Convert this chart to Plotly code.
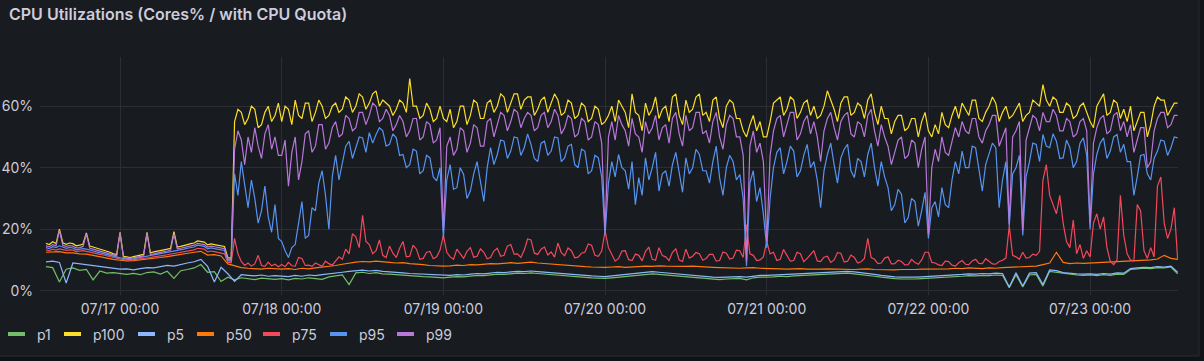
import pandas as pd
import plotly.graph_objects as go

# ---------------- data ----------------
# p1 / p5 / p50 are sampled hourly, the noisy percentiles every 30 minutes.
START = "2024-07-16 13:00"
HOURLY = "60min"
HALF_HOURLY = "30min"

series_names = ["p1", "p100", "p5", "p50", "p75", "p95", "p99"]

p1 = [
    7.8, 7.5, 2.8, 7.0, 7.4, 6.6, 6.9, 3.5, 6.4, 5.7, 5.9,
    5.5, 5.3, 5.6, 5.2, 5.9, 6.1, 5.4, 6.3, 4.0, 6.5, 6.9, 7.4, 8.5, 6.0, 6.2, 3.0, 4.4, 3.5, 4.2, 4.0, 3.6, 4.1, 3.8, 3.7,
    3.9, 3.5, 4.0, 3.8, 4.2, 4.0, 3.7, 4.5, 4.9, 5.1, 2.0, 5.8, 6.0, 5.6, 5.9, 5.5, 5.4, 5.2, 5.0, 4.9, 4.7, 4.6, 4.5, 4.3,
    4.2, 4.4, 4.6, 4.5, 4.8, 5.0, 4.9, 5.2, 5.4, 5.3, 5.5, 5.7, 5.6, 5.8, 5.6, 5.4, 5.2, 5.1, 4.9, 4.7, 4.6, 4.4, 4.2, 4.1,
    4.0, 4.2, 4.4, 4.6, 4.9, 5.1, 5.3, 5.5, 5.3, 5.1, 4.9, 4.6, 4.4, 4.2, 4.0, 3.8, 3.7, 3.6, 3.8, 3.9, 4.0, 3.5, 4.2, 4.4,
    4.4, 4.5, 4.7, 4.6, 4.8, 4.9, 5.0, 5.2, 5.1, 5.3, 5.4, 5.6, 5.7, 5.5, 5.3, 5.0, 4.7, 4.4, 4.1, 3.9, 3.8, 3.7, 3.8, 3.9,
    4.0, 4.1, 4.3, 4.4, 4.6, 4.7, 4.9, 4.8, 5.0, 4.9, 5.1, 5.0, 1.0, 5.2, 1.2, 5.1, 5.3, 1.5, 6.3, 6.0, 5.5, 5.2, 5.1, 5.0,
    5.1, 4.9, 5.2, 5.0, 5.4, 5.3, 6.9, 7.1, 7.3, 7.2, 7.5, 7.4, 7.7, 5.5,
]

p5 = [
    9.4, 9.6, 9.2, 2.5, 9.0, 8.7, 8.5, 8.1, 7.9, 7.5, 7.3,
    7.0, 7.1, 6.8, 7.2, 7.5, 7.4, 7.8, 8.2, 8.0, 8.6, 9.0, 9.4, 10.2, 7.9, 2.8, 7.6, 5.5, 3.0, 5.2, 5.0, 4.8, 5.1, 4.7, 4.9,
    4.8, 4.6, 5.0, 4.7, 5.1, 4.9, 5.2, 5.4, 5.8, 6.0, 6.3, 6.5, 6.7, 6.4, 6.6, 6.3, 6.2, 6.0, 5.8, 5.6, 5.5, 5.3, 5.2, 5.0,
    4.9, 5.0, 5.2, 5.1, 5.4, 5.6, 5.5, 5.8, 6.0, 5.9, 6.1, 6.3, 6.2, 6.4, 6.2, 6.0, 5.8, 5.7, 5.5, 5.3, 5.2, 5.0, 4.8, 4.7,
    4.6, 4.8, 5.0, 5.2, 5.5, 5.7, 6.0, 6.2, 6.0, 5.8, 5.6, 5.3, 5.0, 4.9, 4.7, 4.5, 4.4, 4.3, 4.4, 4.5, 4.6, 4.4, 4.8, 5.0,
    5.0, 5.1, 5.3, 5.2, 5.4, 5.5, 5.6, 5.8, 5.7, 5.9, 6.0, 6.2, 6.3, 6.1, 5.9, 5.6, 5.3, 5.0, 4.7, 4.5, 4.4, 4.3, 4.4, 4.5,
    4.6, 4.7, 4.9, 5.0, 5.2, 5.3, 5.5, 5.4, 5.6, 5.5, 5.7, 5.6, 1.2, 5.8, 1.5, 5.7, 5.9, 2.0, 6.8, 6.5, 5.9, 5.6, 5.5, 5.4,
    5.5, 5.3, 5.6, 5.4, 5.8, 5.7, 7.2, 7.4, 7.6, 7.5, 7.8, 7.7, 8.0, 6.0,
]

p50 = [
    12.5, 12.6, 12.7, 12.3, 12.3, 12.0, 11.9, 11.5, 11.0, 10.6, 10.2,
    9.9, 9.7, 9.8, 10.0, 10.2, 10.5, 10.8, 11.1, 11.5, 11.8, 12.2, 12.5, 12.8, 11.6, 11.7, 11.3, 8.7, 8.0, 7.5, 7.3, 7.2, 7.0, 7.3, 7.1,
    7.0, 7.2, 6.9, 7.3, 7.1, 7.4, 7.6, 7.8, 8.2, 8.6, 9.0, 9.3, 9.5, 9.4, 9.6, 9.3, 9.2, 9.0, 9.1, 8.8, 8.7, 8.5, 8.2, 8.0,
    8.0, 8.1, 8.3, 8.2, 8.5, 8.4, 8.6, 8.8, 8.7, 9.0, 9.1, 8.9, 9.2, 9.3, 9.0, 8.8, 8.7, 8.5, 8.3, 8.2, 8.0, 7.8, 7.7, 7.6,
    7.6, 7.7, 7.8, 7.6, 7.8, 7.9, 8.0, 7.9, 8.1, 8.0, 7.9, 7.8, 7.9, 8.0, 7.8, 7.7, 7.6, 7.5, 7.4, 7.5, 7.3, 7.4, 7.5, 7.3,
    7.3, 7.2, 7.1, 7.0, 7.1, 7.2, 7.0, 6.9, 7.0, 7.1, 7.0, 6.9, 6.8, 6.9, 7.0, 7.1, 6.9, 6.8, 6.7, 6.8, 6.9, 6.8, 6.9, 7.0,
    7.0, 7.1, 7.2, 7.1, 7.3, 7.2, 7.4, 7.3, 7.2, 7.4, 7.3, 7.5, 7.6, 7.5, 7.7, 7.8, 8.0, 8.5, 9.0, 12.5, 9.2, 8.8, 9.0, 8.9,
    9.0, 9.1, 9.3, 9.2, 9.4, 9.5, 9.6, 9.8, 9.9, 10.0, 10.3, 11.5, 10.5, 10.2,
]

p100 = [
    15.4, 15.0, 15.9, 15.3, 20.0, 15.6, 15.1, 15.5, 15.3, 14.6, 14.8, 15.2, 18.8, 14.5, 14.2, 13.9, 13.5, 13.3, 12.8, 12.5, 12.0, 11.8,
    19.0, 11.2, 11.0, 10.8, 11.1, 11.3, 11.5, 11.8, 19.0, 12.3, 12.6, 12.9, 13.0, 13.3, 13.5, 13.8, 19.2, 14.2, 14.4, 14.8, 15.0, 15.3, 15.5, 16.2,
    16.0, 15.8, 14.9, 15.2, 15.0, 14.8, 14.6, 14.4, 10.8, 10.5, 55, 59, 58, 54, 56, 60, 59, 53, 54, 58, 60, 55, 57, 61,
    55, 60, 59, 54, 62, 57, 56, 61, 61, 55, 58, 62, 60, 56, 57, 60, 61, 58, 59, 63, 62, 58, 60, 64,
    63, 59, 61, 64, 65, 60, 62, 61, 60, 57, 59, 62, 61, 58, 69, 60, 60, 56, 57, 61, 59, 55, 56, 60,
    56, 55, 59, 53, 55, 60, 60, 54, 57, 62, 61, 56, 56, 61, 62, 58, 60, 64, 63, 58, 61, 64, 64, 59,
    62, 63, 63, 57, 59, 62, 63, 58, 61, 64, 62, 57, 58, 62, 61, 56, 57, 61, 60, 55, 56, 60, 59, 54,
    55, 57, 60, 55, 62, 60, 58, 53, 64, 58, 57, 52, 61, 57, 59, 63, 56, 59, 60, 55, 63, 64, 57, 54,
    62, 58, 59, 63, 64, 57, 58, 55, 62, 63, 56, 53, 60, 62, 61, 56, 56, 52, 50, 54, 57, 52, 55, 50,
    50, 55, 61, 62, 63, 57, 59, 63, 62, 56, 58, 61, 62, 57, 60, 56, 57, 60, 65, 62, 59, 55, 61, 63,
    63, 57, 58, 61, 60, 56, 62, 64, 58, 54, 60, 56, 56, 51, 55, 57, 57, 52, 53, 56, 56, 50, 55, 58,
    52, 50, 54, 51, 58, 54, 53, 57, 60, 56, 61, 59, 57, 62, 62, 56, 55, 58, 60, 63, 61, 55, 58, 60,
    56, 57, 59, 61, 55, 57, 58, 62, 61, 60, 67, 62, 60, 63, 62, 58, 58, 61, 60, 56, 57, 60, 61, 58,
    55, 53, 60, 62, 64, 57, 58, 62, 61, 56, 59, 55, 60, 52, 55, 58, 58, 50, 54, 60, 63, 62, 62, 57, 59, 61, 61,
]

p99 = [
    14.6, 14.3, 15.0, 14.6, 19.6, 14.8, 14.4, 14.7, 14.5, 13.9, 14.0, 14.4, 18.5, 13.8, 13.5, 13.2, 12.8, 12.6, 12.2, 11.9, 11.5, 11.3,
    18.8, 10.8, 10.6, 10.4, 10.7, 10.9, 11.0, 11.3, 18.6, 11.8, 12.0, 12.3, 12.4, 12.7, 12.9, 13.2, 18.5, 13.6, 13.8, 14.1, 14.3, 14.6, 14.8, 15.4,
    15.2, 15.0, 14.2, 14.5, 14.3, 14.1, 13.9, 13.7, 10.2, 10.0, 46, 52, 49, 41, 50, 45, 53, 47, 43, 51, 54, 46, 50, 44,
    44, 49, 34, 45, 50, 36, 42, 51, 52, 45, 47, 54, 54, 46, 48, 53, 55, 50, 51, 57, 56, 52, 53, 58,
    58, 54, 57, 61, 60, 55, 56, 59, 57, 52, 54, 57, 55, 50, 52, 56, 56, 49, 50, 55, 54, 48, 49, 53,
    19.5, 47, 50, 44, 46, 53, 52, 45, 48, 54, 53, 47, 47, 55, 56, 50, 54, 58, 57, 52, 55, 59, 58, 53,
    56, 58, 57, 52, 53, 57, 58, 53, 55, 59, 57, 51, 53, 57, 56, 50, 51, 56, 55, 49, 50, 55, 54, 48,
    19.5, 50, 55, 49, 57, 54, 52, 47, 56, 51, 50, 45, 55, 51, 53, 57, 49, 53, 54, 48, 56, 58, 51, 47,
    57, 52, 53, 58, 58, 51, 52, 48, 55, 58, 50, 46, 54, 57, 56, 50, 50, 44, 9.5, 47, 52, 45, 48, 42,
    16, 44, 52, 56, 57, 50, 54, 58, 58, 49, 51, 55, 57, 51, 55, 50, 42, 52, 56, 58, 53, 49, 55, 57,
    58, 51, 50, 55, 54, 50, 57, 59, 52, 47, 54, 50, 47, 41, 45, 49, 50, 43, 44, 49, 48, 40, 46, 50,
    18.4, 40, 46, 42, 50, 45, 44, 49, 53, 50, 55, 52, 51, 56, 56, 50, 48, 52, 54, 57, 57, 47, 50, 53,
    21.6, 50, 52, 55, 19.5, 49, 53, 57, 56, 52, 58, 55, 55, 59, 57, 52, 52, 56, 55, 50, 51, 55, 56, 52,
    22, 48, 53, 56, 57, 51, 52, 57, 58, 52, 55, 50, 54, 45, 49, 53, 53, 40, 42, 52, 56, 58, 58, 53, 54, 57, 57,
]

p95 = [
    14.0, 13.7, 14.3, 14.0, 14.6, 14.1, 13.8, 14.1, 13.9, 13.3, 13.4, 13.7, 13.5, 13.1, 12.9, 12.6, 12.3, 12.1, 11.8, 11.5, 11.1, 10.9,
    10.7, 10.5, 10.3, 10.1, 10.4, 10.6, 10.7, 10.9, 11.1, 11.3, 11.6, 11.8, 12.0, 12.2, 12.4, 12.7, 12.9, 13.1, 13.3, 13.5, 13.8, 14.0, 14.2, 14.8,
    14.6, 14.4, 13.6, 13.9, 13.7, 13.5, 13.3, 13.1, 9.8, 9.6, 38, 31, 42, 35, 27, 36, 30, 22, 26, 34, 24, 19, 28, 17,
    16, 13, 10.8, 14, 15, 22, 29, 17, 18, 27, 26, 35, 39, 31, 20, 37, 44, 36, 42, 47, 48.6, 43, 46.5, 50,
    49.7, 45, 51.4, 48, 50.8, 53, 52, 47, 47.6, 51, 49.7, 44, 44.3, 40, 41, 46, 45.4, 38, 39, 44, 43.2, 37, 35.7, 40,
    17, 36, 41, 33, 33.5, 40, 37.8, 30, 32.4, 38, 42, 35, 29, 40, 46.5, 41, 44.3, 49, 48.6, 43, 45.4, 50, 49.7, 44,
    46.5, 51, 47.6, 43, 42, 48, 48.6, 44, 45.4, 50, 49.7, 42, 43.2, 47, 47.6, 41, 40, 46, 45.4, 38, 39, 44, 43.2, 37,
    18, 35, 42, 37, 44.3, 40, 39, 33, 42, 28, 36.8, 31, 43.2, 36, 40, 45, 32.4, 38, 39, 34, 41, 45, 37.8, 32,
    43.2, 38, 40, 46, 44.3, 39, 39, 35, 42, 47, 36.8, 31, 40, 44, 42, 36, 37.8, 30, 8, 35, 39, 29, 33.5, 25,
    14, 30, 40, 45, 46.5, 38, 42, 47, 45.4, 37, 39, 44, 47.6, 40, 42, 36, 27, 39, 44.3, 48, 41, 35, 43.2, 46,
    47.6, 39, 36.8, 43, 42, 37, 44.3, 48, 40, 34, 42, 37, 33.5, 26, 28, 33, 31.4, 22, 23.8, 30, 29, 21, 26, 32,
    17, 27, 29, 24, 33.5, 28, 27, 36, 42, 38, 45.4, 40, 40, 47, 46.5, 39, 32.4, 41, 44.3, 48, 46.5, 27, 36, 42,
    21, 38, 40, 44, 18, 37, 42, 48, 47.6, 42, 50.8, 47, 46.5, 51, 48.6, 43, 43.2, 49, 46.5, 40, 42, 48, 49.7, 44,
    20, 38, 44.3, 48, 49.7, 43, 45.4, 50, 50.8, 45, 47.6, 42, 42, 31, 37, 44, 44.3, 38, 36, 43, 45.4, 49, 48.6, 44, 46.5, 50, 49.7,
]

p75 = [
    13.3, 13.0, 13.5, 13.2, 13.6, 13.3, 13.1, 13.3, 13.2, 12.7, 12.8, 13.0, 12.8, 12.5, 12.3, 12.0, 11.8, 11.6, 11.3, 11.0, 10.8, 10.6,
    10.3, 10.1, 10.0, 9.9, 10.1, 10.2, 10.3, 10.5, 10.6, 10.8, 11.0, 11.1, 11.3, 11.5, 11.7, 11.9, 12.1, 12.3, 12.5, 12.7, 12.9, 13.1, 13.3, 13.8,
    13.7, 13.5, 12.6, 12.9, 12.7, 12.5, 12.3, 12.0, 9.3, 9.1, 17, 12, 9.5, 8.2, 9.0, 8.0, 8.7, 11.5, 8.2, 7.9, 9.3, 8.1, 8.6, 7.8,
    8.5, 7.8, 9.2, 8.1, 8.0, 10.8, 10.5, 8.2, 8.3, 7.9, 9.0, 8.4, 7.9, 9.6, 8.8, 8.3, 9.5, 11.0, 10.2, 13.5, 12.0, 18.5, 17.5, 14.0,
    24.5, 16.0, 15.0, 12.0, 13.0, 16.5, 11.5, 10.8, 14.5, 12.2, 10.8, 13.8, 16.0, 11.0, 11.2, 14.8, 13.5, 10.2, 10.5, 12.5, 12.8, 10.4, 11.0, 13.2,
    18, 12.5, 11, 10.2, 13.5, 11.8, 10.5, 12.8, 14.0, 10.9, 11.2, 13.6, 12.5, 10.4, 10.8, 12.9, 13.8, 11.2, 11.5, 14.5, 15.0, 11.9, 12.0, 10.8,
    13.2, 16.8, 16.5, 12.2, 11.8, 13.5, 14.2, 11.6, 12.6, 10.9, 15.5, 12.4, 11.4, 13.9, 13.0, 10.7, 10.9, 12.2, 12.5, 15.2, 14.8, 11.5, 11.2, 12.9,
    19.5, 14.0, 12.0, 9.6, 10.5, 12.9, 13.0, 10.1, 9.8, 11.9, 11.5, 9.7, 12.8, 14.2, 10.2, 9.9, 14.0, 11.4, 11.0, 9.8, 12.5, 13.6, 10.0, 9.5,
    13.5, 10.6, 11.2, 12.4, 12.0, 9.9, 10.5, 11.8, 11.8, 9.6, 9.8, 12.6, 12.2, 10.3, 10.6, 13.2, 13.0, 10.8, 21.5, 12.0, 11.5, 9.8, 10.0, 11.0,
    16.0, 12.0, 12.5, 9.8, 10.2, 13.4, 11.5, 9.6, 9.8, 12.5, 12.0, 9.4, 10.5, 11.8, 13.0, 9.7, 9.5, 10.9, 11.2, 9.2, 10.0, 12.4, 12.2, 9.3,
    9.6, 11.6, 10.8, 9.0, 9.4, 10.5, 17.0, 10.8, 10.2, 8.8, 9.0, 10.6, 11.0, 8.7, 8.8, 9.9, 9.5, 8.4, 8.5, 10.2, 9.2, 8.6, 10.0, 12.5,
    12.5, 9.2, 9.0, 8.4, 8.2, 9.6, 9.5, 8.3, 8.0, 9.1, 9.8, 8.6, 8.5, 9.7, 10.2, 8.9, 8.8, 10.4, 9.4, 8.7, 8.6, 9.5, 9.9, 10.6,
    21.0, 11.5, 11.0, 10.2, 12.5, 10.6, 10.8, 11.9, 11.5, 12.8, 36.0, 41.0, 31.0, 28.0, 25.0, 31.0, 22.0, 16.0, 14.0, 23.0, 12.0, 15.0, 10.5, 13.0,
    11, 22, 25, 20, 24, 14, 9.5, 8.5, 10, 31, 18, 12, 10, 9.7, 28, 26, 13, 10.5, 14, 11, 34, 37, 22, 17, 20, 27, 10,
]

y_ticks = [0, 20, 40, 60]
y_tick_text = ["0%", "20%", "40%", "60%"]

# ---------------- styling ----------------
colors = {
    "p1": "#73BF69", "p100": "#FADE2A", "p5": "#8AB8FF", "p50": "#FF780A",
    "p75": "#F2495C", "p95": "#5794F2", "p99": "#B877D9",
}
values = {"p1": p1, "p100": p100, "p5": p5, "p50": p50, "p75": p75, "p95": p95, "p99": p99}
freqs = {"p1": HOURLY, "p5": HOURLY, "p50": HOURLY,
         "p100": HALF_HOURLY, "p99": HALF_HOURLY, "p95": HALF_HOURLY, "p75": HALF_HOURLY}

W, H = 1204, 361
ML, MR, MT, MB = 40, 26, 57, 66
PW, PH = W - ML - MR, H - MT - MB
PLOT_BOTTOM = H - MB
TEXT = "#ccccdc"
GRID = "#2c2e33"
FONT = "Inter, Roboto, sans-serif"


def px_x(px):
    return (px - ML) / PW


def px_y(py):
    return (PLOT_BOTTOM - py) / PH


fig = go.Figure()
for name in series_names:
    vals = values[name]
    t = pd.date_range(START, periods=len(vals), freq=freqs[name])
    fig.add_trace(go.Scatter(
        x=t, y=vals, name=name, mode="lines",
        line=dict(color=colors[name], width=1.2),
        showlegend=False, hoverinfo="skip",
    ))

shapes = []
annotations = []

# panel background + border
shapes.append(dict(type="rect", xref="paper", yref="paper", layer="below",
                   x0=px_x(-2), x1=px_x(1199), y0=px_y(356), y1=px_y(-2),
                   fillcolor="#181b1f", line=dict(color="#2a2c31", width=1)))

# title
annotations.append(dict(text="CPU Utilizations (Cores% / with CPU Quota)",
                        xref="paper", yref="paper", x=px_x(7), y=px_y(14),
                        xanchor="left", yanchor="middle", showarrow=False,
                        font=dict(family=FONT, size=16, color=TEXT, weight=600)))

# legend (manual, Grafana style)
legend_x = [8, 64, 138, 197, 263, 330, 397]
LEG_Y = 334
for name, lx in zip(series_names, legend_x):
    shapes.append(dict(type="rect", xref="paper", yref="paper",
                       x0=px_x(lx), x1=px_x(lx + 17), y0=px_y(LEG_Y + 2), y1=px_y(LEG_Y - 2),
                       fillcolor=colors[name], line=dict(width=0)))
    annotations.append(dict(text=name, xref="paper", yref="paper",
                            x=px_x(lx + 27), y=px_y(LEG_Y), xanchor="left", yanchor="middle",
                            showarrow=False, font=dict(family=FONT, size=14, color=TEXT)))

fig.update_layout(
    width=W, height=H,
    margin=dict(l=ML, r=MR, t=MT, b=MB, pad=0, autoexpand=False),
    paper_bgcolor="#111217", plot_bgcolor="rgba(0,0,0,0)",
    font=dict(family=FONT, size=14, color=TEXT),
    showlegend=False,
    shapes=shapes, annotations=annotations,
    xaxis=dict(
        type="date", range=["2024-07-16 12:07", "2024-07-23 13:03"],
        tick0="2024-07-17 00:00", dtick=86400000, tickformat="%m/%d %H:%M",
        showgrid=True, gridcolor=GRID, gridwidth=1, zeroline=False, showline=False,
        ticks="", ticklabelstandoff=4, automargin=False,
        tickfont=dict(family=FONT, size=14, color=TEXT),
    ),
    yaxis=dict(
        range=[-1.4, 76], tickmode="array", tickvals=y_ticks, ticktext=y_tick_text,
        showgrid=True, gridcolor=GRID, gridwidth=1, zeroline=False, showline=False,
        ticks="", ticklabelstandoff=6, automargin=False,
        tickfont=dict(family=FONT, size=14, color=TEXT),
    ),
)

fig.write_html(
    "out.html",
    config={"displayModeBar": False},
    post_script="document.body.style.margin='0';document.body.style.background='#111217';",
)
